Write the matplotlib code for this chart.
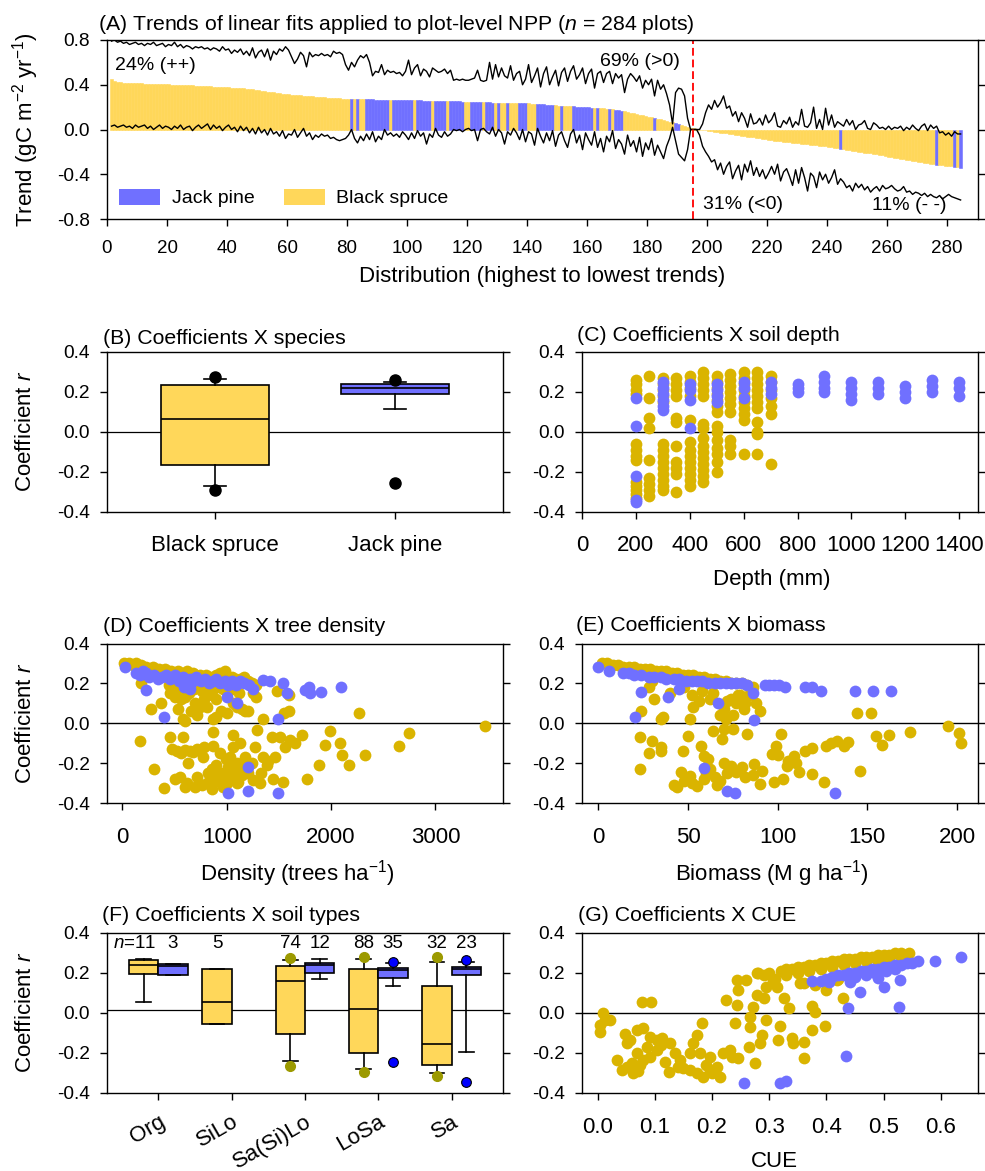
import numpy as np
import matplotlib
matplotlib.use("Agg")
import matplotlib.pyplot as plt
from matplotlib.patches import Patch

plt.rcParams['font.family'] = ['Liberation Sans', 'DejaVu Sans']
plt.rcParams['mathtext.fontset'] = 'custom'
plt.rcParams['mathtext.rm'] = 'Liberation Sans'
plt.rcParams['mathtext.it'] = 'Liberation Sans:italic'
plt.rcParams['axes.unicode_minus'] = False

YEL_BAR = '#FFD75A'
YEL_DOT = '#DAB400'
BLUE = '#7070FF'

# ---------------- Panel A data ----------------
trend = [
 0.451,0.437,0.428,0.423,0.420,0.418,0.416,0.415,0.414,0.413,
 0.412,0.411,0.410,0.409,0.408,0.407,0.406,0.405,0.404,0.403,
 0.402,0.401,0.400,0.399,0.398,0.397,0.396,0.395,0.393,0.392,
 0.390,0.389,0.387,0.386,0.384,0.383,0.381,0.380,0.378,0.377,
 0.375,0.373,0.372,0.370,0.368,0.365,0.362,0.359,0.355,0.351,
 0.347,0.343,0.339,0.335,0.331,0.327,0.324,0.321,0.318,0.315,
 0.312,0.310,0.307,0.305,0.303,0.300,0.298,0.296,0.294,0.292,
 0.290,0.288,0.286,0.284,0.282,0.280,0.278,0.276,0.275,0.273,
 0.272,0.272,0.271,0.271,0.270,0.270,0.269,0.269,0.268,0.268,
 0.267,0.267,0.266,0.266,0.266,0.265,0.265,0.265,0.264,0.264,
 0.263,0.262,0.261,0.260,0.259,0.258,0.257,0.256,0.255,0.254,
 0.254,0.253,0.253,0.252,0.252,0.251,0.251,0.250,0.250,0.249,
 0.248,0.247,0.246,0.245,0.244,0.243,0.242,0.241,0.240,0.239,
 0.238,0.238,0.237,0.237,0.236,0.236,0.235,0.235,0.234,0.234,
 0.232,0.230,0.228,0.226,0.224,0.222,0.220,0.218,0.216,0.214,
 0.212,0.210,0.209,0.207,0.206,0.204,0.203,0.201,0.200,0.198,
 0.196,0.194,0.192,0.190,0.188,0.186,0.184,0.181,0.178,0.174,
 0.169,0.163,0.157,0.151,0.145,0.139,0.133,0.127,0.120,0.114,
 0.108,0.102,0.096,0.090,0.085,0.078,0.071,0.064,0.057,0.049,
 0.041,0.033,0.025,0.017,0.010,0.003,
 -0.002,-0.005,-0.008,-0.011,
 -0.015,-0.019,-0.023,-0.027,-0.031,-0.035,-0.039,-0.043,-0.047,-0.051,
 -0.055,-0.059,-0.063,-0.067,-0.071,-0.075,-0.079,-0.083,-0.088,-0.094,
 -0.097,-0.100,-0.103,-0.106,-0.109,-0.112,-0.115,-0.118,-0.121,-0.124,
 -0.127,-0.130,-0.133,-0.136,-0.139,-0.142,-0.145,-0.148,-0.151,-0.154,
 -0.158,-0.162,-0.166,-0.170,-0.175,-0.180,-0.185,-0.190,-0.194,-0.198,
 -0.202,-0.206,-0.210,-0.214,-0.218,-0.222,-0.226,-0.231,-0.237,-0.243,
 -0.248,-0.253,-0.258,-0.263,-0.268,-0.273,-0.277,-0.281,-0.285,-0.289,
 -0.293,-0.297,-0.301,-0.305,-0.309,-0.313,-0.316,-0.319,-0.322,-0.324,
 -0.329,-0.333,-0.337,-0.341]

upper = [
 .79,.80,.78,.79,.77,.78,.76,.77,.78,.76, .77,.75,.77,.76,.78,.75,.76,.77,.74,.76,
 .75,.78,.74,.76,.73,.75,.74,.72,.74,.73, .74,.72,.73,.71,.73,.72,.70,.74,.71,.72,
 .68,.71,.69,.72,.67,.70,.66,.73,.64,.69, .71,.65,.72,.62,.70,.67,.72,.70,.74,.71,
 .65,.59,.63,.69,.66,.56,.69,.65,.67,.66, .68,.66,.67,.65,.70,.68,.69,.67,.58,.53,
 .60,.56,.62,.66,.64,.67,.60,.48,.52,.51, .58,.49,.53,.51,.52,.50,.51,.48,.52,.62,
 .49,.55,.58,.48,.54,.52,.47,.55,.53,.51, .52,.54,.50,.53,.44,.45,.44,.45,.44,.44,
 .45,.46,.53,.44,.43,.44,.60,.45,.58,.47, .55,.48,.46,.57,.44,.50,.52,.40,.45,.58,
 .42,.48,.55,.38,.50,.56,.40,.47,.53,.39, .51,.55,.43,.52,.57,.45,.49,.55,.41,.50,
 .54,.37,.50,.52,.42,.50,.52,.41,.50,.46, .49,.33,.45,.50,.47,.43,.48,.37,.44,.40,
 .45,.30,.44,.36,.40,.32,.22,.05,.33,.37, .36,.30,.10,.00,.00,.00,
 .00,.05,.15,.22,.18,.26,.20,.24,.30,.19,.21,.12,.16,.07,
 .15,.10,.02,.14,.05,.06,.10,.04,.13,.06, .09,.15,.03,.02,.08,.05,.11,.02,.07,.04,
 .18,.03,.02,.06,.20,.01,.09,.00,.19,.04, .13,.02,.07,.05,.03,.09,.04,.08,.00,.04,
 .05,.08,.01,.00,.06,.04,.01,.02,.00,.03, .00,.02,.01,.03,-.01,.02,.00,.04,.01,-.01,
 .03,.05,-.01,.04,.01,.03,-.03,-.02,-.05,-.03, -.06,-.02,-.04,-.04]

lower = [
 .03,.04,.02,.03,.04,.02,.03,.01,.04,.02, .03,.04,.01,.03,.00,.02,.04,.01,.03,.02,
 .00,.03,.01,.04,.00,.02,.03,-.01,.02,.04, .01,.03,.05,.00,.04,.01,.03,-.01,.02,.04,
 .00,.02,-.02,.03,-.01,.02,-.03,.01,-.04,.02, -.03,.00,-.05,.01,-.04,-.02,-.06,-.01,-.08,-.04,
 -.05,.00,-.07,-.03,.01,-.06,-.03,-.09,-.05,-.07, -.04,-.06,-.05,-.08,-.07,-.09,-.10,-.09,-.08,-.05,
 .00,-.08,-.12,-.06,-.10,-.04,-.09,-.02,-.11,-.06, -.09,.00,-.05,-.03,-.06,-.04,-.07,-.02,-.05,-.09,
 -.03,-.08,-.01,-.06,-.03,-.13,-.04,-.07,.01,-.05, -.07,-.02,-.06,-.04,.00,-.01,.00,-.02,.00,.01,
 -.01,.00,-.10,.00,.01,-.02,-.04,.02,-.06,.00, -.03,-.13,-.02,-.05,.01,-.03,-.09,.00,-.11,-.02,
 -.04,-.14,.01,-.06,-.12,-.03,-.10,-.01,-.15,-.05, -.02,-.10,-.16,-.04,.00,-.12,-.05,-.18,-.03,-.09,
 -.14,-.02,-.16,-.08,-.20,-.06,-.11,-.01,-.17,-.09, -.13,-.22,-.05,-.15,-.10,-.20,-.07,-.24,-.12,-.18,
 -.08,-.23,-.14,-.20,-.26,-.15,-.08,.02,-.10,-.22, -.25,-.28,-.18,.00,.00,.00,
 -.05,-.15,-.20,-.24,-.29,-.27,-.36,-.30,-.40,-.33,-.29,-.44,-.37,-.32,
 -.45,-.31,-.38,-.28,-.41,-.34,-.42,-.36,-.44,-.39, -.33,-.40,-.31,-.46,-.38,-.35,-.42,-.50,-.36,-.48,
 -.34,-.43,-.55,-.39,-.42,-.52,-.38,-.45,-.40,-.48, -.43,-.36,-.49,-.44,-.47,-.52,-.50,-.55,-.48,-.52,
 -.49,-.54,-.51,-.56,-.53,-.51,-.55,-.50,-.53,-.52, -.50,-.53,-.55,-.54,-.51,-.56,-.55,-.58,-.56,-.57,
 -.59,-.57,-.60,-.58,-.60,-.61,-.59,-.62,-.60,-.58, -.60,-.61,-.62,-.63]

jack_pine_plots = ([81, 83] + list(range(86, 94)) + list(range(95, 102)) + list(range(103, 108))
                   + list(range(109, 113)) + list(range(114, 119)) + list(range(121, 125))
                   + [126, 127, 128, 130, 133, 137, 138, 139] + list(range(143, 149))
                   + [151] + list(range(155, 162)) + [163, 167, 169, 170, 171, 182, 189, 190, 244, 276, 282, 284])

# ---------------- Panel B data ----------------
b_species = ['Black spruce', 'Jack pine']
b_q1 = [-0.167, 0.189]
b_med = [0.066, 0.219]
b_q3 = [0.236, 0.238]
b_wlo = [-0.274, 0.116]
b_whi = [0.266, 0.249]
b_fliers = [[-0.29, 0.274], [-0.256, 0.258]]

# ---------------- Panel C data (depth) ----------------
c_bs_depth = [200, 250, 300, 350, 400, 450, 500, 550, 600, 650, 700]
c_bs_r = [
 [0.26, 0.24, 0.21, 0.19, -0.06, -0.09, -0.12, -0.14, -0.25, -0.27, -0.29, -0.31, -0.33],
 [0.28, 0.17, 0.07, 0.02, -0.14, -0.23, -0.26, -0.29, -0.32],
 [0.27, 0.24, 0.21, 0.18, 0.15, -0.06, -0.09, -0.12, -0.15, -0.18, -0.21, -0.24, -0.27, -0.29],
 [0.27, 0.24, 0.21, 0.18, 0.07, 0.05, -0.07, -0.15, -0.18, -0.21, -0.30],
 [0.28, 0.25, 0.22, 0.18, 0.06, -0.05, -0.09, -0.12, -0.15, -0.18, -0.21, -0.24, -0.27],
 [0.30, 0.27, 0.24, 0.21, 0.18, 0.04, 0.02, -0.03, -0.07, -0.10, -0.13, -0.16, -0.19, -0.22, -0.25],
 [0.28, 0.25, 0.22, 0.19, 0.16, 0.13, 0.10, 0.03, 0.00, -0.04, -0.08, -0.11, -0.15, -0.20],
 [0.29, 0.26, 0.23, 0.20, 0.17, 0.14, 0.10, -0.04, -0.07, -0.11],
 [0.30, 0.27, 0.24, 0.21, 0.18, 0.15, 0.12, 0.09, 0.06, -0.11],
 [0.30, 0.27, 0.24, 0.21, 0.18, 0.15, 0.12, 0.05, 0.00, -0.01, -0.11],
 [0.28, 0.25, 0.21, 0.17, 0.13, 0.09, -0.16]]
c_jp_depth = [200, 300, 400, 500, 600, 700, 800, 900, 1000, 1100, 1200, 1300, 1400]
c_jp_r = [
 [0.17, 0.03, -0.22, -0.35, -0.34],
 [0.25, 0.22, 0.19, 0.16, 0.13, 0.11],
 [0.24, 0.21, 0.16, 0.02],
 [0.24, 0.21, 0.18, 0.15],
 [0.25, 0.22, 0.17],
 [0.25, 0.22, 0.19],
 [0.24, 0.22, 0.20],
 [0.28, 0.25, 0.22, 0.20],
 [0.25, 0.22, 0.19, 0.16],
 [0.25, 0.22, 0.19],
 [0.23, 0.20, 0.17],
 [0.26, 0.23, 0.20],
 [0.25, 0.22, 0.18]]

# ---------------- Panel D data (density, r) ----------------
d_bs = [(20,.30),(60,.30),(100,.29),(130,.30),(150,.28),(180,.29),(200,.27),(230,.28),(260,.27),(290,.28),
 (320,.27),(350,.27),(380,.26),(410,.27),(440,.26),(470,.26),(500,.25),(530,.26),(560,.25),(590,.25),
 (620,.26),(650,.24),(680,.25),(710,.24),(740,.24),(770,.23),(800,.24),(830,.23),(860,.23),(900,.24),
 (940,.25),(980,.26),(1010,.22),(1050,.23),(1090,.22),(1130,.22),(1170,.23),(1200,.21),(1240,.20),(1280,.19),
 (180,.20),(450,.19),(520,.17),(560,.12),(600,.13),(640,.15),(700,.10),(740,.08),(780,.12),(820,.14),
 (860,.16),(900,.12),(930,.18),(960,.17),(1000,.15),(1050,.17),(1100,.08),(1150,.07),(1200,.06),(1280,.13),
 (1480,.16),(1600,.14),(1550,.05),(1600,.06),(272,.07),(367,.10),(457,.15),(537,.07),(580,.02),(600,.01),
 (712,.04),(808,.08),(872,.02),(900,.03),(950,.06),(1000,.05),(1060,.10),(1175,.06),(1350,.02),(2270,.05),
 (3475,-.015),(620,.19),(690,.17),(760,.16),(880,.19),(1120,.15),(500,.13),(660,.06),(1250,.15),
 (171,-.09),(299,-.23),(395,-.325),(457,-.07),(472,-.13),(500,-.28),(550,-.27),(585,-.07),(600,-.135),(600,-.32),
 (632,-.20),(680,-.145),(712,-.27),(745,-.135),(777,-.17),(808,-.30),(856,-.23),(872,-.045),(872,-.115),(904,-.29),
 (936,-.15),(952,-.25),(968,-.31),(1016,-.22),(1032,-.17),(1064,-.06),(1064,-.12),(1080,-.25),(1096,-.20),(1112,-.295),
 (1128,-.10),(1176,-.17),(1208,-.25),(1256,-.285),(1272,-.12),(1288,-.035),(1320,-.30),(1352,-.17),(1384,-.21),(1432,-.07),
 (1448,-.28),(1464,-.17),(1512,-.07),(1544,-.295),(1560,-.12),(1608,-.085),(1656,-.10),(1720,-.06),(1768,-.28),(1880,-.21),
 (1944,-.11),(1992,-.04),(2088,-.10),(2104,-.16),(2168,-.21),(2328,-.16),(2647,-.115),(2743,-.05),(520,-.14),(560,-.15),
 (650,-.14),(720,-.13),(780,-.12),(820,-.25),(880,-.27),(940,-.28),(1000,-.30),(1040,-.27),(1100,-.30),(1150,-.26),
 (1180,-.23),(1240,-.20),(1330,-.25),(1400,-.19),(960,-.32),(700,-.32),(760,-.31),(860,-.33),(620,-.30),(1060,-.24),
 (1120,-.21),(990,-.18),(900,-.21),(840,-.26)]
d_jp = [(25,.28),(130,.25),(170,.24),(200,.26),(230,.25),(260,.23),(300,.24),(340,.22),(380,.23),(420,.24),
 (460,.22),(500,.24),(540,.21),(580,.23),(610,.20),(650,.22),(680,.21),(710,.23),(750,.21),(790,.22),
 (830,.20),(870,.21),(900,.22),(940,.20),(980,.21),(1010,.19),(1050,.21),(1090,.19),(1130,.21),(1170,.20),
 (1210,.19),(1250,.17),(1350,.215),(1410,.21),(1544,.20),(1576,.15),(1752,.165),(1784,.18),(1800,.15),(1902,.157),
 (2094,.18),(224,.165),(395,.03),(1000,.13),(1096,.10),(1495,.02),(1208,-.22),(1010,-.35),(1208,-.34),(1495,-.35),
 (650,.17),(590,.18)]

# ---------------- Panel E data (biomass, r) ----------------
e_bs = [(2,.30),(5,.30),(8,.29),(11,.29),(14,.28),(17,.28),(20,.28),(23,.27),(26,.27),(29,.27),
 (32,.26),(35,.26),(38,.26),(41,.25),(44,.25),(47,.24),(50,.24),(53,.24),(56,.23),(59,.23),
 (62,.22),(65,.22),(68,.21),(71,.21),(74,.20),(77,.20),(80,.20),(83,.19),(86,.18),
 (30,.21),(28,.18),(31,.12),(24,.06),(36,.03),(35,.02),(40,.15),(48,.18),(52,.14),(56,.11),
 (58,.16),(53,.08),(51,.02),(62,.12),(64,.15),(68,.04),(70,.07),(72,.11),(74,.12),(75,.04),
 (77,.10),(79,.14),(81,.07),(82,.10),(84,.14),(88,.10),(90,.06),(71,.02),(85,.15),(78,.14),
 (83,-.055),(144,.053),(152,.05),(195,-.013),(201,-.047),(202,-.10),(174,-.042),(162,-.06),(155,-.063),(158,-.107),
 (146,-.238),(139,-.093),(133,-.088),(137,-.113),(127,-.113),(126,-.293),(119,-.122),(115,-.138),(119,-.255),(112,-.247),
 (109,-.163),(105,-.213),(102,-.055),(99,-.113),(97,-.155),(103,-.28),(98,-.297),(90,-.305),(87,-.205),(91,-.238),
 (82,-.272),(77,-.247),(70,-.197),(74,-.213),(68,-.288),(62,-.23),(59,-.28),(55,-.313),(51,-.263),(46,-.247),
 (44,-.322),(48,-.288),(47,-.138),(50,-.063),(57,-.113),(59,-.163),(61,-.18),(64,-.038),(69,-.08),(70,-.03),
 (75,-.03),(23,-.068),(30,-.088),(28,-.147),(35,-.138),(23,-.23),(35,-.12),(65,-.27),(72,-.25),(80,-.22),
 (86,-.26),(52,-.30),(60,-.25),(100,-.16),(106,-.19),(110,-.20),(130,-.10),(66,-.31),(42,-.31)]
e_jp = [(0,.28),(6,.26),(14,.25),(17,.25),(20,.24),(24,.24),(28,.23),(31,.23),(35,.23),(38,.22),
 (42,.22),(45,.22),(49,.21),(52,.21),(55,.21),(58,.21),(61,.20),(65,.20),(68,.20),(71,.20),
 (74,.20),(77,.20),(80,.20),(83,.19),(93,.19),(95,.19),(98,.19),(101,.19),(104,.18),(115,.18),
 (119,.18),(124,.16),(143,.16),(153,.16),(163,.16),(24,.157),(39,.13),(67,.103),(86,.15),(20.5,.032),
 (87,.017),(59,-.222),(72,-.338),(76,-.35),(132,-.352),(45,.17)]

# ---------------- Panel F data (soil types) ----------------
f_soils = ['Org', 'SiLo', 'Sa(Si)Lo', 'LoSa', 'Sa']
f_bs_n = [11, 5, 74, 88, 32]
f_bs_q1 = [0.194, -0.058, -0.108, -0.203, -0.263]
f_bs_med = [0.237, 0.055, 0.160, 0.017, -0.1565]
f_bs_q3 = [0.264, 0.217, 0.235, 0.220, 0.135]
f_bs_wlo = [0.052, -0.058, -0.2415, -0.280, -0.300]
f_bs_whi = [0.268, 0.217, 0.263, 0.268, 0.255]
f_bs_fliers = [[], [], [0.275, -0.265], [0.279, -0.296], [0.277, -0.315]]
f_jp_soils = ['Org', 'Sa(Si)Lo', 'LoSa', 'Sa']
f_jp_n = [3, 12, 35, 23]
f_jp_q1 = [0.190, 0.197, 0.173, 0.190]
f_jp_med = [0.234, 0.237, 0.2135, 0.217]
f_jp_q3 = [0.245, 0.250, 0.223, 0.230]
f_jp_wlo = [0.190, 0.168, 0.1335, -0.198]
f_jp_whi = [0.245, 0.268, 0.250, 0.255]
f_jp_fliers = [[], [], [0.252, -0.2465], [0.262, -0.348]]

# ---------------- Panel G data (CUE, r) ----------------
g_bs = [(0.30,0.20),(0.32,0.21),(0.33,0.22),(0.34,0.22),(0.35,0.23),(0.36,0.23),(0.37,0.24),(0.38,0.24),(0.39,0.25),(0.40,0.25),
 (0.41,0.26),(0.42,0.26),(0.43,0.27),(0.44,0.27),(0.45,0.27),(0.46,0.28),(0.47,0.28),(0.48,0.28),(0.49,0.29),(0.50,0.29),
 (0.51,0.29),(0.52,0.30),(0.53,0.30),(0.545,0.30),(0.29,0.19),(0.28,0.20),(0.31,0.17),(0.33,0.19),(0.35,0.20),(0.37,0.21),
 (0.39,0.22),(0.41,0.23),(0.43,0.24),(0.45,0.25),(0.47,0.26),(0.49,0.26),(0.51,0.27),(0.53,0.28),(0.36,0.15),(0.38,0.14),
 (0.40,0.15),(0.42,0.17),
 (0.278,0.20),(0.243,0.163),(0.246,0.113),(0.26,0.163),(0.225,0.063),(0.243,0.038),(0.278,0.088),(0.29,0.072),(0.272,0.03),(0.295,0.13),
 (0.307,0.163),(0.325,0.072),(0.334,0.022),(0.313,0.13),(0.354,0.147),(0.374,0.033),(0.38,0.005),(0.40,0.113),(0.429,0.072),(0.418,0.163),
 (0.077,0.055),(0.093,0.055),(0.01,-0.003),(0.013,-0.037),(0.021,-0.037),(0.004,-0.062),(0.004,-0.095),(0.182,-0.053),(0.173,-0.112),(0.167,-0.153),
 (0.179,-0.203),(0.24,-0.053),(0.266,-0.02),(0.266,-0.07),(0.295,-0.037),(0.319,-0.067),(0.287,-0.112),(0.284,-0.153),(0.264,-0.17),(0.275,-0.25),
 (0.316,-0.137),(0.339,-0.128),(0.342,-0.153),(0.36,-0.145),(0.36,-0.228),(0.374,-0.087),(0.397,-0.067),
 (0.048,-0.107),(0.057,-0.137),(0.068,-0.087),(0.08,-0.078),(0.091,-0.12),(0.103,-0.137),(0.112,-0.128),(0.126,-0.153),(0.033,-0.237),(0.042,-0.287),
 (0.051,-0.27),(0.062,-0.303),(0.068,-0.203),(0.074,-0.262),(0.08,-0.237),(0.086,-0.17),(0.091,-0.22),(0.103,-0.187),(0.118,-0.245),(0.124,-0.295),
 (0.135,-0.203),(0.144,-0.237),(0.15,-0.278),(0.161,-0.287),(0.173,-0.303),(0.185,-0.32),(0.196,-0.287),(0.196,-0.22),(0.208,-0.27),(0.214,-0.32),
 (0.22,-0.203),(0.231,-0.187),(0.234,-0.22),(0.246,-0.228),(0.19,-0.262),(0.161,-0.203),(0.051,-0.153),(0.06,-0.25),(0.11,-0.16),(0.14,-0.27),
 (0.20,-0.30),(0.07,-0.29)]
g_jp = [(0.375,0.16),(0.39,0.16),(0.40,0.17),(0.41,0.18),(0.42,0.19),(0.43,0.19),(0.44,0.20),(0.45,0.20),(0.46,0.21),(0.47,0.21),
 (0.48,0.22),(0.49,0.22),(0.50,0.23),(0.51,0.23),(0.52,0.24),(0.53,0.24),(0.54,0.25),(0.55,0.25),(0.56,0.26),(0.59,0.26),
 (0.635,0.28),(0.404,0.155),(0.442,0.155),(0.459,0.105),(0.491,0.172),(0.50,0.13),(0.529,0.163),(0.437,0.022),(0.527,0.03),(0.434,-0.217),
 (0.256,-0.35),(0.319,-0.35),(0.33,-0.34),(0.45,0.18),(0.47,0.19),(0.485,0.20),(0.505,0.21),(0.52,0.22)]

# ---------------- Figure ----------------
W, H = 985, 1171
fig = plt.figure(figsize=(W / 100, H / 100), dpi=100)

def add_ax(x0, x1, y0, y1):
    return fig.add_axes([x0 / W, 1 - y1 / H, (x1 - x0) / W, (y1 - y0) / H])

axA = add_ax(107, 978, 40, 219)
axB = add_ax(107, 503, 352, 511.5)
axC = add_ax(582, 978, 352, 511.5)
axD = add_ax(107, 503, 643.5, 803)
axE = add_ax(582, 978, 643.5, 803)
axF = add_ax(107, 503, 932.7, 1092.7)
axG = add_ax(582, 978, 932.7, 1092.7)

YT = 13.8
XT = 16
TITLE = 15.3
LAB = 16
MS = 72

def style(ax, xsize=XT, xpad=12):
    for s in ax.spines.values():
        s.set_linewidth(1.0)
    ax.tick_params(axis='y', left=True, right=True, labelright=False, direction='out',
                   length=5.2, width=1.0, labelsize=YT, pad=7)
    ax.tick_params(axis='x', bottom=True, top=False, direction='out',
                   length=5.2, width=1.0, labelsize=xsize, pad=xpad)

def title(ax, txt, x, y):
    ax.text(x, y, txt, transform=ax.transAxes, fontsize=TITLE, ha='left', va='center')

def coef_axis(ax):
    ax.set_ylim(-0.4, 0.4)
    ax.set_yticks([-0.4, -0.2, 0.0, 0.2, 0.4])
    ax.set_yticklabels(['-0.4', '-0.2', '0.0', '0.2', '0.4'])

# ---- Panel A ----
xb = np.arange(1, len(trend) + 1)
jp_set = set(jack_pine_plots)
bar_cols = [BLUE if i in jp_set else YEL_BAR for i in xb]
axA.bar(xb, trend, width=1.0, align='edge', color=bar_cols, edgecolor=bar_cols, linewidth=0.4)
axA.plot(np.arange(1, len(upper) + 1) + 0.5, upper, color='k', lw=1.0)
axA.plot(np.arange(1, len(lower) + 1) + 0.5, lower, color='k', lw=1.0)
axA.axvline(195.2, color='#FF1010', ls=(0, (4, 2)), lw=1.4)
axA.set_xlim(0, 290.3)
axA.set_ylim(-0.8, 0.8)
axA.set_xticks(np.arange(0, 281, 20))
axA.set_yticks([-0.8, -0.4, 0.0, 0.4, 0.8])
axA.set_yticklabels(['-0.8', '-0.4', '0.0', '0.4', '0.8'])
style(axA, xsize=13.5, xpad=10)
axA.text(2.7, 0.57, '24% (++)', fontsize=14, ha='left', va='center')
axA.text(164.3, 0.612, '69% (>0)', fontsize=14, ha='left', va='center')
axA.text(198.7, -0.666, '31% (<0)', fontsize=14, ha='left', va='center')
axA.text(254.9, -0.675, '11% (- -)', fontsize=14, ha='left', va='center')
axA.legend(handles=[Patch(facecolor=BLUE), Patch(facecolor=YEL_BAR)],
           labels=['Jack pine', 'Black spruce'], ncol=2, frameon=False, fontsize=14,
           handlelength=2.1, handleheight=0.9, handletextpad=0.6, columnspacing=1.5,
           loc='center left', bbox_to_anchor=(0.0141, 0.117), borderaxespad=0, borderpad=0)
axA.set_xlabel('Distribution (highest to lowest trends)', fontsize=LAB, va='center')
axA.xaxis.set_label_coords(0.5, -0.322)
axA.set_ylabel('Trend (gC m$^{-2}$ yr$^{-1}$)', fontsize=LAB, va='center', ha='center')
axA.yaxis.set_label_coords(-0.094, 0.5)
title(axA, '(A) Trends of linear fits applied to plot-level NPP ($\\mathit{n}$ = 284 plots)', -0.0103, 1.089)

# ---- Panel B ----
b_stats = [dict(q1=b_q1[i], med=b_med[i], q3=b_q3[i], whislo=b_wlo[i], whishi=b_whi[i],
                fliers=b_fliers[i], label=b_species[i]) for i in range(2)]
bp = axB.bxp(b_stats, positions=[1, 2], widths=0.6, patch_artist=True, capwidths=0.125,
             boxprops=dict(linewidth=1.2, edgecolor='k'),
             medianprops=dict(color='k', linewidth=1.2),
             whiskerprops=dict(color='k', linewidth=1.2),
             capprops=dict(color='k', linewidth=1.2),
             flierprops=dict(marker='o', markerfacecolor='k', markeredgecolor='k', markersize=8))
bp['boxes'][0].set_facecolor(YEL_BAR)
bp['boxes'][1].set_facecolor(BLUE)
axB.axhline(0, color='k', lw=0.9, zorder=0.5)
axB.set_xlim(0.4, 2.6)
coef_axis(axB)
style(axB)
axB.set_ylabel('Coefficient $\\mathit{r}$', fontsize=LAB, va='center', ha='center')
axB.yaxis.set_label_coords(-0.207, 0.5)
title(axB, '(B) Coefficients X species', -0.011, 1.086)

# ---- Panel C ----
cx = [d for d, rs in zip(c_bs_depth, c_bs_r) for _ in rs]
cy = [r for rs in c_bs_r for r in rs]
axC.scatter(cx, cy, s=MS, color=YEL_DOT, linewidths=0, zorder=2)
cx = [d for d, rs in zip(c_jp_depth, c_jp_r) for _ in rs]
cy = [r for rs in c_jp_r for r in rs]
axC.scatter(cx, cy, s=MS, color=BLUE, linewidths=0, zorder=3)
axC.axhline(0, color='k', lw=1.0, zorder=1)
axC.set_xlim(0, 1470)
axC.set_xticks(np.arange(0, 1401, 200))
coef_axis(axC)
style(axC)
axC.set_xlabel('Depth (mm)', fontsize=LAB, va='center')
axC.xaxis.set_label_coords(0.48, -0.424)
title(axC, '(C) Coefficients X soil depth', -0.013, 1.102)

# ---- Panel D ----
axD.scatter([p[0] for p in d_bs], [p[1] for p in d_bs], s=MS, color=YEL_DOT, linewidths=0, zorder=2)
axD.scatter([p[0] for p in d_jp], [p[1] for p in d_jp], s=MS, color=BLUE, linewidths=0, zorder=3)
axD.axhline(0, color='k', lw=1.0, zorder=1)
axD.set_xlim(-147, 3647)
axD.set_xticks([0, 1000, 2000, 3000])
coef_axis(axD)
style(axD)
axD.set_xlabel('Density (trees ha$^{-1}$)', fontsize=LAB, va='center')
axD.xaxis.set_label_coords(0.48, -0.441)
axD.set_ylabel('Coefficient $\\mathit{r}$', fontsize=LAB, va='center', ha='center')
axD.yaxis.set_label_coords(-0.207, 0.5)
title(axD, '(D) Coefficients X tree density', -0.009, 1.109)

# ---- Panel E ----
axE.scatter([p[0] for p in e_bs], [p[1] for p in e_bs], s=MS, color=YEL_DOT, linewidths=0, zorder=2)
axE.scatter([p[0] for p in e_jp], [p[1] for p in e_jp], s=MS, color=BLUE, linewidths=0, zorder=3)
axE.axhline(0, color='k', lw=1.0, zorder=1)
axE.set_xlim(-9.1, 211.7)
axE.set_xticks([0, 50, 100, 150, 200])
coef_axis(axE)
style(axE)
axE.set_xlabel('Biomass (M g ha$^{-1}$)', fontsize=LAB, va='center')
axE.xaxis.set_label_coords(0.48, -0.444)
title(axE, '(E) Coefficients X biomass', -0.015, 1.11)

# ---- Panel F ----
bs_pos = [0.8, 1.8, 2.8, 3.8, 4.8]
jp_pos = [1.2, 3.2, 4.2, 5.2]
common = dict(widths=0.4, patch_artist=True, capwidths=0.2,
              boxprops=dict(linewidth=1.2, edgecolor='k'),
              medianprops=dict(color='k', linewidth=1.2),
              whiskerprops=dict(color='k', linewidth=1.2),
              capprops=dict(color='k', linewidth=1.2))
f_bs_stats = [dict(q1=f_bs_q1[i], med=f_bs_med[i], q3=f_bs_q3[i], whislo=f_bs_wlo[i],
                   whishi=f_bs_whi[i], fliers=f_bs_fliers[i]) for i in range(5)]
f_jp_stats = [dict(q1=f_jp_q1[i], med=f_jp_med[i], q3=f_jp_q3[i], whislo=f_jp_wlo[i],
                   whishi=f_jp_whi[i], fliers=f_jp_fliers[i]) for i in range(4)]
bp1 = axF.bxp(f_bs_stats, positions=bs_pos, manage_ticks=False,
              flierprops=dict(marker='o', markerfacecolor='#9C9A00', markeredgecolor='#9C9A00', markersize=7),
              **common)
for b in bp1['boxes']:
    b.set_facecolor(YEL_BAR)
bp2 = axF.bxp(f_jp_stats, positions=jp_pos, manage_ticks=False,
              flierprops=dict(marker='o', markerfacecolor='#0000FF', markeredgecolor='k',
                              markeredgewidth=0.8, markersize=7),
              **common)
for b in bp2['boxes']:
    b.set_facecolor(BLUE)
axF.axhline(0.013, color='k', lw=0.9, zorder=0.5)
axF.set_xlim(0.3, 5.7)
axF.set_xticks([1, 2, 3, 4, 5])
axF.set_xticklabels(f_soils, rotation=30, ha='right', va='top', rotation_mode='anchor')
coef_axis(axF)
style(axF, xpad=8)
axF.text(0.975, 0.347, '$\\mathit{n}$=%d' % f_bs_n[0], fontsize=13.5, ha='right', va='center')
for p, n in zip(bs_pos[1:], f_bs_n[1:]):
    axF.text(p, 0.347, str(n), fontsize=13.5, ha='center', va='center')
for p, n in zip(jp_pos, f_jp_n):
    axF.text(p, 0.347, str(n), fontsize=13.5, ha='center', va='center')
axF.set_ylabel('Coefficient $\\mathit{r}$', fontsize=LAB, va='center', ha='center')
axF.yaxis.set_label_coords(-0.207, 0.5)
title(axF, '(F) Coefficients X soil types', -0.013, 1.105)

# ---- Panel G ----
axG.scatter([p[0] for p in g_bs], [p[1] for p in g_bs], s=MS, color=YEL_DOT, linewidths=0, zorder=2)
axG.scatter([p[0] for p in g_jp], [p[1] for p in g_jp], s=MS, color=BLUE, linewidths=0, zorder=3)
axG.axhline(0, color='k', lw=1.0, zorder=1)
axG.set_xlim(-0.0274, 0.665)
axG.set_xticks([0.0, 0.1, 0.2, 0.3, 0.4, 0.5, 0.6])
axG.set_xticklabels(['0.0', '0.1', '0.2', '0.3', '0.4', '0.5', '0.6'])
coef_axis(axG)
style(axG)
axG.set_xlabel('CUE', fontsize=LAB, va='center')
axG.xaxis.set_label_coords(0.485, -0.431)
title(axG, '(G) Coefficients X CUE', -0.011, 1.11)

fig.savefig('out.png', dpi=100)
